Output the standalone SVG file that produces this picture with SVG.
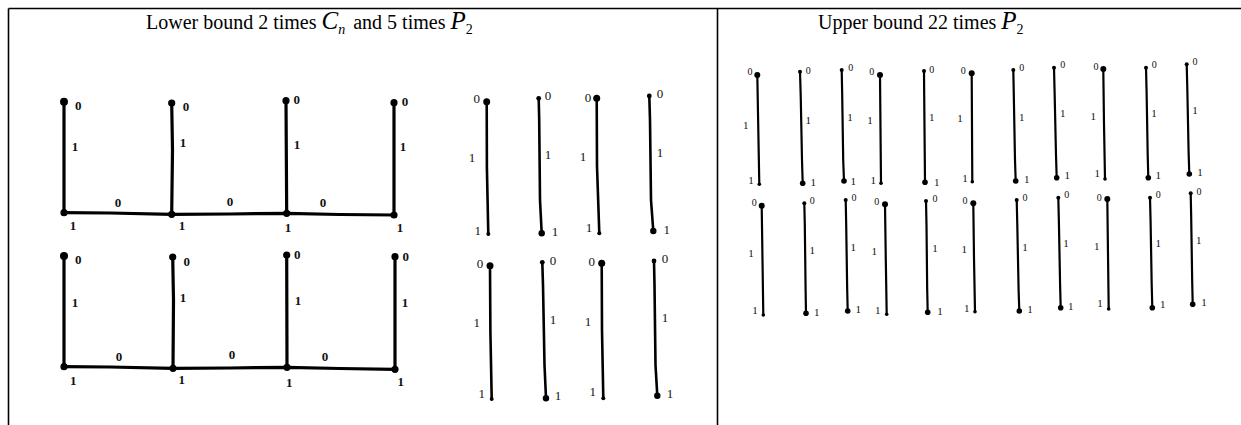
<svg xmlns="http://www.w3.org/2000/svg" width="1241" height="425" viewBox="0 0 1241 425">
<style>
.frame{stroke:#000;stroke-width:1.6;fill:none}
.t{font-family:"Liberation Serif","Times New Roman",serif;font-size:20px;fill:#000}
.i{font-style:italic;font-size:25px}
.sub{font-style:italic;font-size:14px}
.sub2{font-size:14px}
.g{stroke:#000;stroke-width:3.2;fill:none;stroke-linecap:round}
.p{stroke:#000;stroke-width:2.6;fill:none;stroke-linecap:round}
.q{stroke:#000;stroke-width:2.2;fill:none;stroke-linecap:round}
.b{font-family:"Liberation Serif","Times New Roman",serif;font-size:13px;font-weight:bold;fill:#111;text-anchor:middle}
.m{font-family:"Liberation Serif","Times New Roman",serif;font-size:13px;fill:#111;text-anchor:middle}
.s{font-family:"Liberation Serif","Times New Roman",serif;font-size:11px;fill:#111;text-anchor:middle}
.z{font-family:"Liberation Serif","Times New Roman",serif;font-size:10px;fill:#111;text-anchor:middle}
circle{fill:#000}
</style>

<g id="frame">
<line class="frame" x1="8.5" y1="8.5" x2="1241" y2="8.5"/>
<line class="frame" x1="8.5" y1="8.5" x2="8.5" y2="425"/>
<line class="frame" x1="717.5" y1="8.5" x2="717.5" y2="425"/>
</g>

<g id="titles">
<text class="t" x="146" y="29">Lower bound 2 times <tspan class="i">C</tspan><tspan class="sub" dy="5">n</tspan><tspan dy="-5" dx="8">and 5 times </tspan><tspan class="i">P</tspan><tspan class="sub2" dy="5">2</tspan></text>
<text class="t" x="818" y="29">Upper bound 22 times <tspan class="i">P</tspan><tspan class="sub2" dy="5">2</tspan></text>
</g>

<g id="connectors">
<polyline class="g" points="64,101.7 64,212.7"/>
<polyline class="g" points="171.7,103 172.5,150 171.7,214.3"/>
<polyline class="g" points="286,100.7 286.7,213.3"/>
<polyline class="g" points="394,102.7 394,215"/>
<polyline class="g" points="64,212.7 110,213 171.7,214.3 230,214 286.7,213.3 340,214.5 394,215"/>
<text class="b" x="118" y="207">0</text><text class="b" x="230" y="206">0</text><text class="b" x="323" y="207">0</text>
<text class="b" x="75" y="151">1</text><text class="b" x="183" y="147">1</text><text class="b" x="297" y="149">1</text><text class="b" x="403" y="151">1</text>
<polyline class="g" points="64,256 64,366.7"/>
<polyline class="g" points="172.7,257 173.5,300 173,368.3"/>
<polyline class="g" points="286.7,255 287,367.3"/>
<polyline class="g" points="395,256.7 395,369.3"/>
<polyline class="g" points="64,366.7 110,367 173,368.3 230,368 287,367.3 340,368.5 395,369.3"/>
<text class="b" x="119" y="361">0</text><text class="b" x="232" y="359">0</text><text class="b" x="325" y="361">0</text>
<text class="b" x="75" y="307">1</text><text class="b" x="183" y="302">1</text><text class="b" x="298" y="305">1</text><text class="b" x="405" y="307">1</text>
<polyline class="p" points="486.7,101.7 486.9,168 488.3,234"/>
<polyline class="p" points="538.7,98.3 539.2,120 540,200 541.7,233.3"/>
<polyline class="p" points="596.7,98.3 597,166 599.3,233.3"/>
<polyline class="p" points="649.3,96 650,120 651,200 653.3,231"/>
<polyline class="p" points="490,265.7 490.4,332 491.7,399"/>
<polyline class="p" points="542.3,262.3 543,285 544.5,365 546,398.3"/>
<polyline class="p" points="601.7,263.3 602,330 603.3,398.3"/>
<polyline class="p" points="654,261 654.5,285 655.5,365 657.3,395.7"/>
<text class="m" x="472" y="162">1</text><text class="m" x="548" y="159">1</text><text class="m" x="583" y="161">1</text><text class="m" x="660" y="157">1</text>
<text class="m" x="476.7" y="327">1</text><text class="m" x="553" y="324">1</text><text class="m" x="588" y="326">1</text><text class="m" x="665" y="322">1</text>
<polyline class="q" points="757.3,75 758.3,130 759.3,184.3"/>
<polyline class="q" points="800,71.7 800.7,95 802,160 802.7,183.3"/>
<polyline class="q" points="841.7,70 842.2,95 843.2,160 844,181"/>
<polyline class="q" points="880,75 880.5,130 881,183.3"/>
<polyline class="q" points="924,71 924.2,95 924.8,160 925,182.3"/>
<polyline class="q" points="971.7,73.3 972,128 972.3,181.7"/>
<polyline class="q" points="1013.3,70 1013.8,95 1015,160 1015.7,181"/>
<polyline class="q" points="1054,67.7 1054.6,92 1056,155 1056.7,177.7"/>
<polyline class="q" points="1103.3,69 1104,124 1105,179"/>
<polyline class="q" points="1146,67.7 1146.6,92 1147.7,155 1148.3,177.7"/>
<polyline class="q" points="1186.7,64.3 1187.3,88 1188.6,152 1189.3,174"/>
<text class="s" x="745.7" y="129">1</text><text class="s" x="808.3" y="124">1</text><text class="s" x="850" y="120.7">1</text><text class="s" x="870" y="124">1</text><text class="s" x="931.7" y="120.7">1</text><text class="s" x="960" y="122.3">1</text><text class="s" x="1021.7" y="120.7">1</text><text class="s" x="1062.7" y="117.3">1</text><text class="s" x="1093.3" y="119.7">1</text><text class="s" x="1154" y="117.3">1</text><text class="s" x="1195" y="114">1</text>
<polyline class="q" points="761.7,205.7 762.5,260 763.3,315"/>
<polyline class="q" points="804.3,203.3 804.8,225 805.6,290 806,313.3"/>
<polyline class="q" points="845.7,200 846.2,225 847.2,290 847.7,311"/>
<polyline class="q" points="885,204.3 885.8,260 886.7,314.3"/>
<polyline class="q" points="926,201 926.5,225 927.2,290 927.7,312.3"/>
<polyline class="q" points="973.3,203.3 974,258 975,311.7"/>
<polyline class="q" points="1016.7,200 1017.3,225 1018.6,290 1019.3,311"/>
<polyline class="q" points="1058.3,197.7 1058.9,222 1060.1,285 1060.7,307.7"/>
<polyline class="q" points="1107.3,199 1108,254 1108.7,309"/>
<polyline class="q" points="1150,197.7 1150.6,222 1151.7,285 1152.3,307.7"/>
<polyline class="q" points="1190.7,193.3 1191.2,218 1192.2,282 1192.7,304.3"/>
<text class="s" x="751" y="257.3">1</text><text class="s" x="812.3" y="254">1</text><text class="s" x="853.3" y="250.7">1</text><text class="s" x="874.3" y="255">1</text><text class="s" x="935" y="252.3">1</text><text class="s" x="964.3" y="253">1</text><text class="s" x="1025" y="250.7">1</text><text class="s" x="1066" y="247.3">1</text><text class="s" x="1096.7" y="249.7">1</text><text class="s" x="1158.3" y="247.3">1</text><text class="s" x="1198.7" y="244">1</text>
</g>

<g id="c1-t1"><circle cx="64" cy="101.7" r="4"/><text class="b" x="78.3" y="109.5">0</text></g>
<g id="c1-t2"><circle cx="171.7" cy="103" r="3.6"/><text class="b" x="186" y="110.5">0</text></g>
<g id="c1-t3"><circle cx="286" cy="100.7" r="3.6"/><text class="b" x="296.7" y="103.8">0</text></g>
<g id="c1-t4"><circle cx="394" cy="102.7" r="3.6"/><text class="b" x="405" y="106.2">0</text></g>
<g id="c1-b1"><circle cx="64" cy="212.7" r="3.6"/><text class="b" x="73" y="229.5">1</text></g>
<g id="c1-b2"><circle cx="171.7" cy="214.3" r="3.6"/><text class="b" x="182" y="229.5">1</text></g>
<g id="c1-b3"><circle cx="286.7" cy="213.3" r="3.6"/><text class="b" x="288" y="231.5">1</text></g>
<g id="c1-b4"><circle cx="394" cy="215" r="3.6"/><text class="b" x="400" y="231.5">1</text></g>
<g id="c2-t1"><circle cx="64" cy="256" r="4"/><text class="b" x="78.3" y="263.8">0</text></g>
<g id="c2-t2"><circle cx="172.7" cy="257" r="3.6"/><text class="b" x="186.7" y="266.2">0</text></g>
<g id="c2-t3"><circle cx="286.7" cy="255" r="3.6"/><text class="b" x="297.3" y="258.5">0</text></g>
<g id="c2-t4"><circle cx="395" cy="256.7" r="3.6"/><text class="b" x="405.7" y="260.5">0</text></g>
<g id="c2-b1"><circle cx="64" cy="366.7" r="3.6"/><text class="b" x="73.3" y="385.2">1</text></g>
<g id="c2-b2"><circle cx="173" cy="368.3" r="3.6"/><text class="b" x="181.7" y="383.8">1</text></g>
<g id="c2-b3"><circle cx="287" cy="367.3" r="3.6"/><text class="b" x="289.3" y="387.2">1</text></g>
<g id="c2-b4"><circle cx="395" cy="369.3" r="3.6"/><text class="b" x="400.7" y="386.2">1</text></g>

<g id="a1-t"><circle cx="486.7" cy="101.7" r="3.5"/><text class="m" x="476.7" y="102.5">0</text></g>
<g id="a1-b"><circle cx="488.3" cy="234" r="2"/><text class="m" x="477.7" y="234.5">1</text></g>
<g id="a2-t"><circle cx="538.7" cy="98.3" r="2.4"/><text class="m" x="548" y="99.5">0</text></g>
<g id="a2-b"><circle cx="541.7" cy="233.3" r="3.2"/><text class="m" x="555" y="235.5">1</text></g>
<g id="a3-t"><circle cx="596.7" cy="98.3" r="3.5"/><text class="m" x="588" y="101.5">0</text></g>
<g id="a3-b"><circle cx="599.3" cy="233.3" r="2"/><text class="m" x="589" y="231.5">1</text></g>
<g id="a4-t"><circle cx="649.3" cy="96" r="2.4"/><text class="m" x="660" y="97.5">0</text></g>
<g id="a4-b"><circle cx="653.3" cy="231" r="3.2"/><text class="m" x="666.7" y="233.5">1</text></g>
<g id="b1-t"><circle cx="490" cy="265.7" r="3.5"/><text class="m" x="480" y="267.5">0</text></g>
<g id="b1-b"><circle cx="491.7" cy="399" r="2"/><text class="m" x="481.7" y="397.5">1</text></g>
<g id="b2-t"><circle cx="542.3" cy="262.3" r="2.4"/><text class="m" x="553" y="264.5">0</text></g>
<g id="b2-b"><circle cx="546" cy="398.3" r="3.2"/><text class="m" x="558" y="399.5">1</text></g>
<g id="b3-t"><circle cx="601.7" cy="263.3" r="3.5"/><text class="m" x="591.7" y="266.2">0</text></g>
<g id="b3-b"><circle cx="603.3" cy="398.3" r="2"/><text class="m" x="592.7" y="396.2">1</text></g>
<g id="b4-t"><circle cx="654" cy="261" r="2.4"/><text class="m" x="665" y="262.5">0</text></g>
<g id="b4-b"><circle cx="657.3" cy="395.7" r="3.2"/><text class="m" x="670" y="397.5">1</text></g>

<g id="r1-t"><circle cx="757.3" cy="75" r="3"/><text class="z" x="750" y="75.2">0</text></g>
<g id="r1-b"><circle cx="759.3" cy="184.3" r="1.8"/><text class="s" x="751" y="184">1</text></g>
<g id="r2-t"><circle cx="800" cy="71.7" r="2"/><text class="z" x="808.3" y="73.5">0</text></g>
<g id="r2-b"><circle cx="802.7" cy="183.3" r="2.8"/><text class="s" x="813.3" y="185.7">1</text></g>
<g id="r3-t"><circle cx="841.7" cy="70" r="2"/><text class="z" x="850.7" y="71.2">0</text></g>
<g id="r3-b"><circle cx="844" cy="181" r="2.8"/><text class="s" x="853.3" y="185">1</text></g>
<g id="r4-t"><circle cx="880" cy="75" r="3"/><text class="z" x="871.7" y="75.2">0</text></g>
<g id="r4-b"><circle cx="881" cy="183.3" r="1.8"/><text class="s" x="873.3" y="184">1</text></g>
<g id="r5-t"><circle cx="924" cy="71" r="2"/><text class="z" x="931.7" y="72.5">0</text></g>
<g id="r5-b"><circle cx="925" cy="182.3" r="2.8"/><text class="s" x="936.7" y="185.7">1</text></g>
<g id="r6-t"><circle cx="971.7" cy="73.3" r="3"/><text class="z" x="963.3" y="73.5">0</text></g>
<g id="r6-b"><circle cx="972.3" cy="181.7" r="1.8"/><text class="s" x="965" y="182.3">1</text></g>
<g id="r7-t"><circle cx="1013.3" cy="70" r="2"/><text class="z" x="1021.7" y="71.2">0</text></g>
<g id="r7-b"><circle cx="1015.7" cy="181" r="2.8"/><text class="s" x="1026.7" y="183">1</text></g>
<g id="r8-t"><circle cx="1054" cy="67.7" r="2"/><text class="z" x="1062.7" y="67.8">0</text></g>
<g id="r8-b"><circle cx="1056.7" cy="177.7" r="2.8"/><text class="s" x="1067.3" y="179">1</text></g>
<g id="r9-t"><circle cx="1103.3" cy="69" r="3"/><text class="z" x="1096" y="70.2">0</text></g>
<g id="r9-b"><circle cx="1105" cy="179" r="1.8"/><text class="s" x="1097.3" y="177.3">1</text></g>
<g id="r10-t"><circle cx="1146" cy="67.7" r="2"/><text class="z" x="1154.3" y="67.8">0</text></g>
<g id="r10-b"><circle cx="1148.3" cy="177.7" r="2.8"/><text class="s" x="1158.3" y="179">1</text></g>
<g id="r11-t"><circle cx="1186.7" cy="64.3" r="2"/><text class="z" x="1195" y="64.5">0</text></g>
<g id="r11-b"><circle cx="1189.3" cy="174" r="2.8"/><text class="s" x="1200" y="175.7">1</text></g>

<g id="s1-t"><circle cx="761.7" cy="205.7" r="3"/><text class="z" x="754.3" y="205.8">0</text></g>
<g id="s1-b"><circle cx="763.3" cy="315" r="1.8"/><text class="s" x="755" y="314">1</text></g>
<g id="s2-t"><circle cx="804.3" cy="203.3" r="2"/><text class="z" x="812.3" y="203.5">0</text></g>
<g id="s2-b"><circle cx="806" cy="313.3" r="2.8"/><text class="s" x="816.7" y="315.7">1</text></g>
<g id="s3-t"><circle cx="845.7" cy="200" r="2"/><text class="z" x="854" y="201.2">0</text></g>
<g id="s3-b"><circle cx="847.7" cy="311" r="2.8"/><text class="s" x="858.3" y="313">1</text></g>
<g id="s4-t"><circle cx="885" cy="204.3" r="3"/><text class="z" x="876.7" y="204.5">0</text></g>
<g id="s4-b"><circle cx="886.7" cy="314.3" r="1.8"/><text class="s" x="877.7" y="314">1</text></g>
<g id="s5-t"><circle cx="926" cy="201" r="2"/><text class="z" x="935" y="201.8">0</text></g>
<g id="s5-b"><circle cx="927.7" cy="312.3" r="2.8"/><text class="s" x="940" y="315">1</text></g>
<g id="s6-t"><circle cx="973.3" cy="203.3" r="3"/><text class="z" x="965" y="203.5">0</text></g>
<g id="s6-b"><circle cx="975" cy="311.7" r="1.8"/><text class="s" x="966.7" y="311.7">1</text></g>
<g id="s7-t"><circle cx="1016.7" cy="200" r="2"/><text class="z" x="1025" y="201.2">0</text></g>
<g id="s7-b"><circle cx="1019.3" cy="311" r="2.8"/><text class="s" x="1030" y="313">1</text></g>
<g id="s8-t"><circle cx="1058.3" cy="197.7" r="2"/><text class="z" x="1066.7" y="197.8">0</text></g>
<g id="s8-b"><circle cx="1060.7" cy="307.7" r="2.8"/><text class="s" x="1070.7" y="309.7">1</text></g>
<g id="s9-t"><circle cx="1107.3" cy="199" r="3"/><text class="z" x="1099.3" y="201.2">0</text></g>
<g id="s9-b"><circle cx="1108.7" cy="309" r="1.8"/><text class="s" x="1100" y="307.3">1</text></g>
<g id="s10-t"><circle cx="1150" cy="197.7" r="2"/><text class="z" x="1158.3" y="197.8">0</text></g>
<g id="s10-b"><circle cx="1152.3" cy="307.7" r="2.8"/><text class="s" x="1162.7" y="308.3">1</text></g>
<g id="s11-t"><circle cx="1190.7" cy="193.3" r="2"/><text class="z" x="1199" y="194.5">0</text></g>
<g id="s11-b"><circle cx="1192.7" cy="304.3" r="2.8"/><text class="s" x="1204" y="306.3">1</text></g>
</svg>
